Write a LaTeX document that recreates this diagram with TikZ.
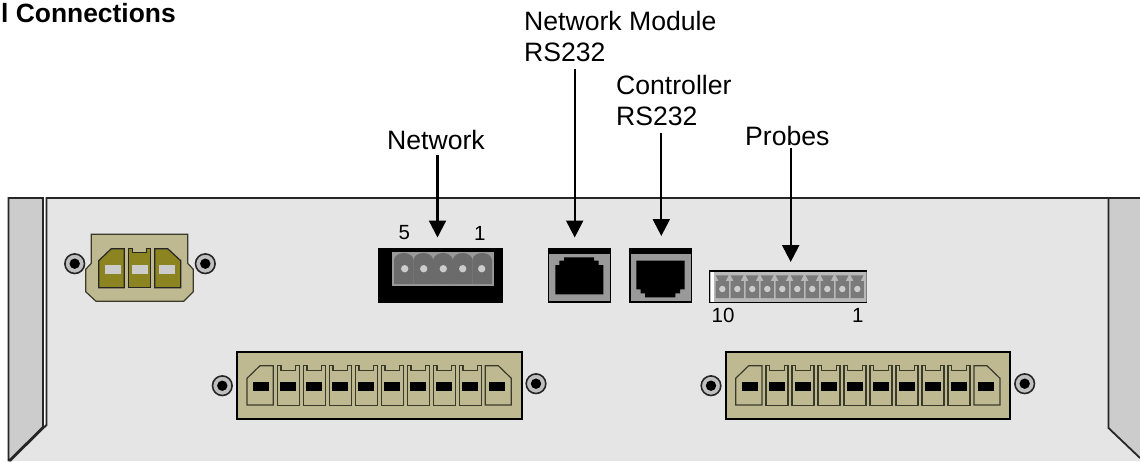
\documentclass[tikz,border=0pt]{standalone}
\usepackage{fontspec}
\setmainfont{Liberation Sans}
\usetikzlibrary{arrows.meta}
\definecolor{panelgrey}{HTML}{E5E5E5}
\definecolor{flangegrey}{HTML}{CCCCCC}
\definecolor{tan}{HTML}{BFB992}
\definecolor{olive}{HTML}{8C8420}
\definecolor{pinline}{HTML}{3A3A2A}
\tikzset{
  x=1pt,y=-1pt,
  lbl/.style={inner sep=0pt,anchor=north west,align=left,font=\fontsize{26.6}{31}\selectfont},
  digit/.style={inner sep=0pt,anchor=base west,font=\fontsize{20.5}{24}\selectfont},
  arw/.style={line width=2.2pt,-{Triangle[length=17pt,width=17pt]}},
  edge/.style={line width=1.8pt,draw=black!85,line join=miter},
  pinedge/.style={line width=1.2pt,draw=pinline,fill=tan,line join=miter},
  olivepin/.style={line width=1.2pt,draw=black!85,fill=olive,line join=miter},
  screwpic/.pic={
    \fill[black!25] (0,0) circle (9.8);
    \draw[line width=1.6pt,black!85] (0,0) circle (9.8);
    \fill[black] (0,0) circle (5.2);
  },
  notchpin/.pic={
    \draw[pinedge] (0,40) -- (0,0) -- (3.7,0) -- (3.7,5) -- (18.3,5) -- (18.3,0) -- (22,0) -- (22,40) -- cycle;
    \fill[black] (2.7,16.6) rectangle (18.7,25.3);
  },
  terminalblock/.pic={
    \draw[line width=1.8pt,black,fill=tan] (237.3,352.3) rectangle (521.7,419);
    \draw[pinedge] (247,378.3) -- (260,365.7) -- (273.3,365.7) -- (273.3,405) -- (247,405) -- cycle;
    \fill[black] (253,382.3) rectangle (269,391);
    \foreach \i in {0,...,7} { \pic at ({277.33+26*\i},365.7) {notchpin}; }
    \draw[pinedge] (485.3,365.7) -- (498.3,365.7) -- (511.3,378.3) -- (511.3,405) -- (485.3,405) -- cycle;
    \fill[black] (489,382.3) rectangle (505,391);
  }
}
\begin{document}
\begin{tikzpicture}
\useasboundingbox (0,0) rectangle (1140,461);
\fill[white] (0,0) rectangle (1140,461);
% chassis
\fill[panelgrey] (46.5,198) -- (1108.5,198) -- (1108.5,428) -- (1140,459) -- (1140,461) -- (10,461) -- (46.5,425) -- cycle;
\draw[edge] (10,461) -- (46.5,425) -- (46.5,198) -- (1140,198);
\fill[flangegrey] (8.5,198) -- (43,198) -- (43,427) -- (8.5,461) -- cycle;
\draw[edge] (8.5,461) -- (8.5,198) -- (43,198) -- (43,427) -- (8.5,461);
\fill[flangegrey] (1108.5,198) -- (1140,198) -- (1140,458) -- (1108.5,428) -- cycle;
\draw[edge] (1108.5,198) -- (1108.5,428) -- (1140,458);
\draw[edge] (1108.5,198) -- (1140,198);
% power connector
\draw[line width=1.2pt,draw=pinline,fill=tan] (91.3,234.3) -- (187.7,234.3) -- (187.7,263.3) -- (193.3,269.3) -- (193.3,291.7) -- (183.7,301.3) -- (96,301.3) -- (85.7,291.7) -- (85.7,269.3) -- (91.3,263.3) -- cycle;
\draw[olivepin] (98.7,260.7) -- (111.3,248.7) -- (124.3,248.7) -- (124.3,287.7) -- (98.7,287.7) -- cycle;
\draw[olivepin] (128.7,287.7) -- (128.7,248.7) -- (132.7,248.7) -- (132.7,252.7) -- (146.7,252.7) -- (146.7,248.7) -- (150.3,248.7) -- (150.3,287.7) -- cycle;
\draw[olivepin] (154.7,248.7) -- (167.7,248.7) -- (180.7,260.7) -- (180.7,287.7) -- (154.7,287.7) -- cycle;
\fill[flangegrey] (105,265) rectangle (121,274);
\fill[flangegrey] (132,265) rectangle (148,274);
\fill[flangegrey] (159,265) rectangle (175,274);
\pic at (74.7,263.7) {screwpic};
\pic at (205.3,263.7) {screwpic};
% network connector
\fill[black] (378,248.3) rectangle (502.7,303.3);
\fill[black!40] (392.3,251.7) rectangle (494.3,286);
\foreach \i in {0,...,4} {
  \fill[black!58] ({394+19.6*\i},284) -- ({394+19.6*\i},260) .. controls ({395+19.6*\i},250.7) and ({412.6+19.6*\i},250.7) .. ({413.6+19.6*\i},260) -- ({413.6+19.6*\i},284) -- cycle;
}
\foreach \x in {404.7,423.7,443.3,462.7,481.7} { \fill[flangegrey] (\x,268.7) circle (3.7); }
% RJ45 jacks
\draw[line width=1.2pt,black,fill=black!40] (548.6,248.6) rectangle (610.5,302);
\fill[black] (548.6,248.6) rectangle (610.5,254.3);
\fill[black] (555.3,294.3) -- (555.3,265) -- (559.3,265) -- (559.3,260.7) -- (564,260.7) -- (564,257.3) -- (594,257.3) -- (594,260.7) -- (598.7,260.7) -- (598.7,265) -- (603.3,265) -- (603.3,294.3) -- cycle;
\draw[line width=1.2pt,black,fill=black!40] (630,248.6) rectangle (691.8,302);
\fill[black] (630,248.6) rectangle (691.8,254.3);
\fill[black] (636.3,260.7) -- (684.7,260.7) -- (684.7,289.3) -- (680,289.3) -- (680,293.3) -- (675.3,293.3) -- (675.3,297.3) -- (645,297.3) -- (645,293.3) -- (640.7,293.3) -- (640.7,289.3) -- (636.3,289.3) -- cycle;
% probes connector
\fill[black!28] (709.3,271) rectangle (866.7,302.3);
\fill[white] (710.7,272) rectangle (714,301.5);
\foreach \i in {0,...,9} {
  \fill[black!52] ({715.6+15*\i},275.3) -- ({728.6+15*\i},275.3) -- ({725.6+15*\i},281) -- ({728.9+15*\i},281) -- ({728.9+15*\i},298) -- ({715.6+15*\i},298) -- ({715.6+15*\i},281) -- ({718.6+15*\i},281) -- cycle;
  \fill[flangegrey] ({722.3+15*\i},289) circle (3.2);
}
\draw[line width=1pt,black!50] (866.7,271) -- (866.7,302.3);
\draw[line width=1.2pt,black] (866.7,271) -- (709.3,271) -- (709.3,302.3) -- (866.7,302.3);
% terminal blocks
\pic at (0,0) {terminalblock};
\pic at (222.3,385.7) {screwpic};
\pic at (536,383.7) {screwpic};
\pic at (488.67,0) {terminalblock};
\pic at (711,385.7) {screwpic};
\pic at (1024.67,383.7) {screwpic};
% labels
\node[inner sep=0pt,anchor=base west,font=\fontsize{26.4}{31}\selectfont\bfseries] (title) at (1,22) {l Connections};
\node[lbl] (lblNetMod) at (524,11) {Network Module\\RS232};
\node[lbl] (lblCtrl) at (616,75) {Controller\\RS232};
\node[inner sep=0pt,anchor=base west,font=\fontsize{26.6}{31}\selectfont] (lblProbes) at (745,145) {Probes};
\node[inner sep=0pt,anchor=base west,font=\fontsize{26.6}{31}\selectfont] (lblNet) at (387,149.5) {Network};
\node[digit] (n5) at (398.5,239) {5};
\node[digit] (n1) at (474,240.5) {1};
\node[digit] (n10) at (711.5,322) {10};
\node[digit] (n1b) at (852,322) {1};
% arrows
\coordinate (fromNet) at (437.5,155);
\coordinate (toNet) at (437.5,237.5);
\coordinate (fromNetMod) at (574.7,69);
\coordinate (toNetMod) at (574.7,237.5);
\coordinate (fromCtrl) at (661.3,133);
\coordinate (toCtrl) at (661.3,236);
\coordinate (fromProbes) at (790.7,148);
\coordinate (toProbes) at (790.7,262);
\draw[arw] (fromNet) -- (toNet);
\draw[arw] (fromNetMod) -- (toNetMod);
\draw[arw] (fromCtrl) -- (toCtrl);
\draw[arw] (fromProbes) -- (toProbes);
\end{tikzpicture}
\end{document}
